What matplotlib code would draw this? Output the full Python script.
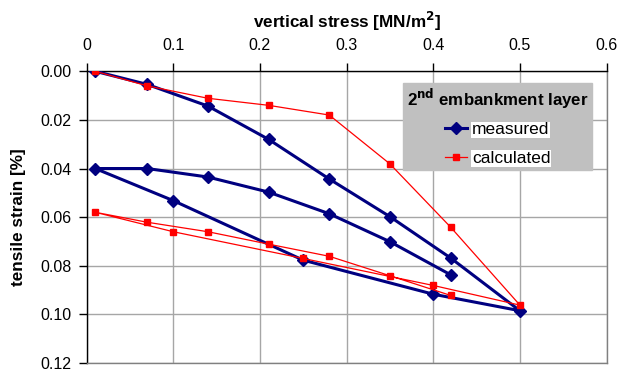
import matplotlib
matplotlib.use("Agg")
import matplotlib.pyplot as plt
from matplotlib.ticker import FixedLocator, FormatStrFormatter

plt.rcParams['font.family'] = ['Liberation Sans', 'DejaVu Sans']

# measured: loading -> unloading -> reloading
measured_stress = [0.01, 0.07, 0.14, 0.21, 0.28, 0.35, 0.42, 0.50,
                   0.40, 0.25, 0.10, 0.01,
                   0.07, 0.14, 0.21, 0.28, 0.35, 0.42]
measured_strain = [0.000, 0.0054, 0.0143, 0.0280, 0.0443, 0.0598, 0.0768, 0.0985,
                   0.0917, 0.0777, 0.0532, 0.0400,
                   0.0400, 0.0435, 0.0497, 0.0586, 0.0701, 0.0837]

# calculated: loading -> unloading -> reloading
calc_stress = [0.01, 0.07, 0.14, 0.21, 0.28, 0.35, 0.42, 0.50,
               0.40, 0.25, 0.10, 0.01,
               0.07, 0.14, 0.21, 0.28, 0.35, 0.42]
calc_strain = [0.000, 0.0060, 0.0111, 0.0140, 0.0180, 0.0381, 0.0641, 0.0962,
               0.0881, 0.0770, 0.0660, 0.0580,
               0.0621, 0.0660, 0.0711, 0.0761, 0.0841, 0.0922]

x_ticks = [0, 0.1, 0.2, 0.3, 0.4, 0.5, 0.6]
y_ticks = [0.00, 0.02, 0.04, 0.06, 0.08, 0.10, 0.12]

fig = plt.figure(figsize=(6.19, 3.71), dpi=100)
ax = fig.add_axes([86.6 / 619, 1 - 363 / 371, 520 / 619, (363 - 71.3) / 371])

ax.plot(measured_stress, measured_strain, color='#000080', lw=2.2,
        marker='D', ms=6, mfc='#000080', mec='#000080', label='measured', zorder=3)
ax.plot(calc_stress, calc_strain, color='#FF0000', lw=0.9,
        marker='s', ms=4.5, mfc='#FF0000', mec='#FF0000', label='calculated', zorder=4)

ax.set_xlim(0, 0.6)
ax.set_ylim(0.12, 0.0)
ax.xaxis.set_major_locator(FixedLocator(x_ticks))
ax.yaxis.set_major_locator(FixedLocator(y_ticks))
ax.xaxis.set_major_formatter(FormatStrFormatter('%g'))
ax.yaxis.set_major_formatter(FormatStrFormatter('%.2f'))
ax.xaxis.tick_top()
ax.xaxis.set_label_position('top')

ax.grid(True, color='#A6A6A6', lw=1.0)
ax.set_axisbelow(True)
for side in ('top', 'left'):
    ax.spines[side].set_color('black')
    ax.spines[side].set_linewidth(1.0)
for side in ('bottom', 'right'):
    ax.spines[side].set_color('#808080')
    ax.spines[side].set_linewidth(1.0)

ax.tick_params(axis='both', direction='out', length=6, width=1, color='black',
               labelsize=11.5)
ax.tick_params(axis='x', top=True, bottom=False, pad=7.5)
ax.tick_params(axis='y', pad=5)

ax.set_xlabel('vertical stress [MN/m$^\\mathbf{2}$]', fontsize=12.3, fontweight='bold', labelpad=7)
ax.set_ylabel('tensile strain [%]', fontsize=12.3, fontweight='bold', labelpad=10)

leg = ax.legend(loc='upper left', bbox_to_anchor=(403 / 619, 1 - 82.5 / 371),
                bbox_transform=fig.transFigure,
                title='2$^{\\mathbf{nd}}$ embankment layer',
                title_fontproperties={'weight': 'bold', 'size': 12.2},
                fontsize=12.5, frameon=True, fancybox=False,
                facecolor='#C0C0C0', edgecolor='#C0C0C0', framealpha=1.0,
                handlelength=1.3, handletextpad=0.25, labelspacing=0.77,
                borderpad=0.22, borderaxespad=0)
leg._legend_box.align = 'center'
leg._legend_box.sep = 8.5
for t in leg.get_texts():
    t.set_bbox(dict(facecolor='white', edgecolor='none', pad=0.5))

fig.savefig('out.png', dpi=100)
